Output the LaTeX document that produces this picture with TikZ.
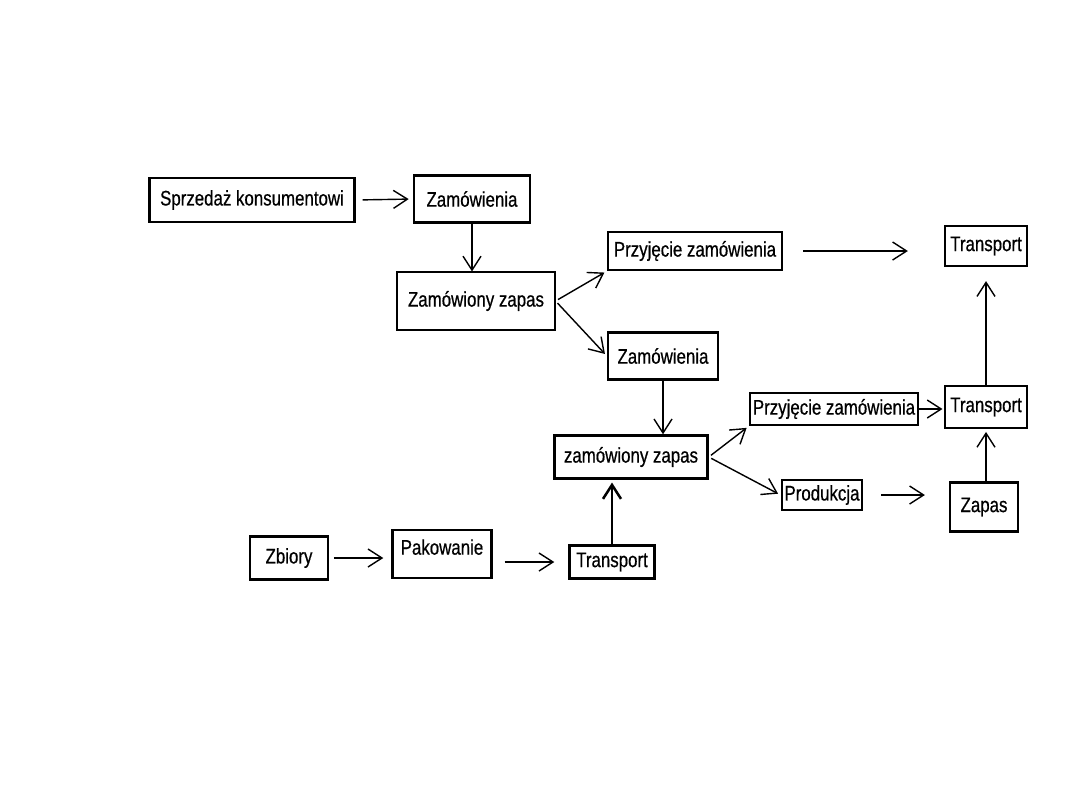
\documentclass[tikz,border=0pt]{standalone}
\usepackage{fontspec}
\setmainfont{Liberation Sans}[FakeStretch=0.8, FakeBold=0.6]
\usetikzlibrary{positioning, arrows.meta}

\begin{document}
\begin{tikzpicture}[
        >={Straight Barb[length=3.5mm, width=4.5mm]},
        box/.style={draw, rectangle, line width=1.6pt, align=center, font=\fontsize{15}{17}\selectfont, inner sep=2pt},
        arr/.style={->, line width=1pt, shorten >=2pt, shorten <=2pt}
    ]
    \useasboundingbox (0,0) rectangle (27,-20.25);

    % --- upper chain ---
    \node[box, minimum width=5.12cm, minimum height=1.1cm] (sprzedaz) at (6.3,-5.0) {Sprzedaż konsumentowi};
    \node[box, minimum width=2.9cm, minimum height=1.18cm] (zam1) at (11.8,-4.975) {Zamówienia};
    \node[box, line width=0.8pt, minimum width=3.95cm, minimum height=1.45cm] (zapas1) at (11.9,-7.525) {Zamówiony zapas};
    \node[box, minimum width=4.35cm, minimum height=0.95cm] (przyj1) at (17.375,-6.275) {Przyjęcie zamówienia};
    \node[box, minimum width=2.05cm, minimum height=1.0cm] (trans1) at (24.65,-6.15) {Transport};

    % --- middle chain ---
    \node[box, minimum width=2.75cm, minimum height=1.18cm] (zam2) at (16.575,-8.9) {Zamówienia};
    \node[box, minimum width=3.83cm, minimum height=1.08cm] (zapas2) at (15.775,-11.425) {zamówiony zapas};
    \node[box, minimum width=4.2cm, minimum height=0.8cm] (przyj2) at (20.85,-10.225) {Przyjęcie zamówienia};
    \node[box, minimum width=2.05cm, minimum height=1.05cm] (trans2) at (24.65,-10.175) {Transport};
    \node[box, minimum width=2.0cm, minimum height=0.75cm] (prod) at (20.55,-12.375) {Produkcja};
    \node[box, minimum width=1.7cm, minimum height=1.23cm] (zapas3) at (24.6,-12.675) {Zapas};

    % --- lower chain ---
    \node[box, minimum width=1.95cm, minimum height=1.08cm] (zbiory) at (7.225,-13.95) {Zbiory};
    \node[box, minimum width=2.48cm, minimum height=1.2cm, text depth=0.35cm] (pakow) at (11.05,-13.85) {Pakowanie};
    \node[box, minimum width=2.13cm, minimum height=0.83cm] (trans3) at (15.3,-14.05) {Transport};

    % --- connectors ---
    \draw[arr, shorten <=5pt, shorten >=3pt] (sprzedaz.east) -- (zam1.west);
    \draw[arr, shorten <=0pt, shorten >=0pt] (zam1.south) -- (zam1.south |- zapas1.north);
    \draw[arr] (zapas1.east) -- (przyj1.south west);
    \draw[arr] (zapas1.east) -- (zam2.west);
    \draw[arr, shorten <=0.5cm, shorten >=0.9cm] (przyj1.east) -- (trans1.west |- przyj1.east);
    \draw[arr, shorten <=0pt, shorten >=0pt] (zam2.south) -- (zam2.south |- zapas2.north);
    \draw[arr] (zapas2.east) -- (przyj2.south west);
    \draw[arr] (zapas2.east) -- (prod.west);
    \draw[arr, shorten <=0pt, shorten >=1pt] (przyj2.east) -- (trans2.west |- przyj2.east);
    \draw[arr, shorten <=0.45cm, shorten >=0.6cm] (prod.east) -- (zapas3.west |- prod.east);
    \draw[arr, shorten <=0pt] (zapas3.north -| trans2.south) -- (trans2.south);
    \draw[arr, shorten <=0pt, shorten >=0.35cm] (trans2.north) -- (trans1.south);
    \draw[arr, shorten <=0.12cm, shorten >=0.2cm] (zbiory.east) -- (pakow.west |- zbiory.east);
    \draw[arr, shorten <=0.3cm, shorten >=0.35cm] (pakow.east |- trans3.west) -- (trans3.west);
    \draw[arr, line width=1.8pt, shorten <=0pt] (trans3.north) -- (trans3.north |- zapas2.south);

\end{tikzpicture}
\end{document}
